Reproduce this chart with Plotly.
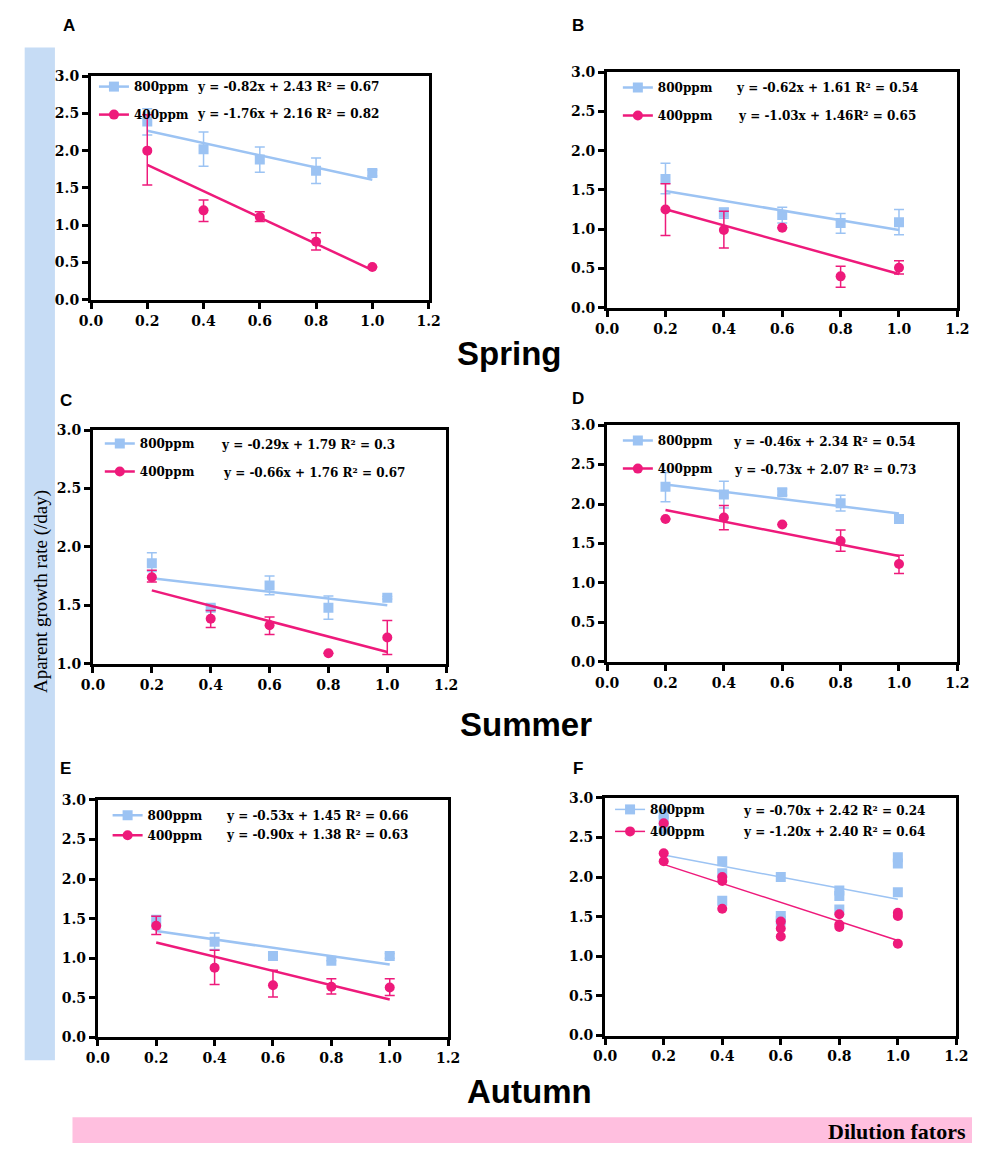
import plotly.graph_objects as go

W, H = 984, 1151
def px(x): return x / W
def py(y): return 1 - y / H

X = [0.2, 0.4, 0.6, 0.8, 1.0]

# Panel A (Spring, left)
a800 = [2.39, 2.02, 1.88, 1.73, 1.70]
a800_hi = [0.17, 0.23, 0.17, 0.17, 0.04]
a800_lo = [0.18, 0.23, 0.17, 0.17, 0.04]
a400 = [2.00, 1.20, 1.11, 0.78, 0.44]
a400_hi = [0.48, 0.14, 0.07, 0.12, 0.0]
a400_lo = [0.46, 0.15, 0.06, 0.11, 0.0]
# Panel B (Spring, right)
b800 = [1.64, 1.21, 1.18, 1.08, 1.09]
b800_hi = [0.20, 0.06, 0.10, 0.12, 0.16]
b800_lo = [0.19, 0.07, 0.10, 0.13, 0.16]
b400 = [1.25, 0.99, 1.02, 0.40, 0.51]
b400_hi = [0.33, 0.24, 0.0, 0.13, 0.09]
b400_lo = [0.33, 0.23, 0.0, 0.14, 0.08]
# Panel C (Summer, left)
c800 = [1.86, 1.48, 1.67, 1.48, 1.565]
c800_hi = [0.09, 0.02, 0.08, 0.10, 0.01]
c800_lo = [0.07, 0.02, 0.08, 0.10, 0.01]
c400 = [1.74, 1.385, 1.33, 1.09, 1.225]
c400_hi = [0.06, 0.07, 0.07, 0.0, 0.145]
c400_lo = [0.04, 0.075, 0.08, 0.0, 0.145]
# Panel D (Summer, right)
d800 = [2.22, 2.12, 2.15, 2.01, 1.81]
d800_hi = [0.18, 0.17, 0.04, 0.10, 0.03]
d800_lo = [0.19, 0.17, 0.04, 0.10, 0.03]
d400 = [1.81, 1.83, 1.74, 1.53, 1.24]
d400_hi = [0.0, 0.15, 0.0, 0.14, 0.11]
d400_lo = [0.0, 0.155, 0.0, 0.13, 0.12]
# Panel E (Autumn, left)
e800 = [1.46, 1.21, 1.03, 0.97, 1.03]
e800_hi = [0.08, 0.11, 0.0, 0.0, 0.03]
e800_lo = [0.09, 0.10, 0.0, 0.0, 0.03]
e400 = [1.41, 0.88, 0.66, 0.64, 0.63]
e400_hi = [0.12, 0.22, 0.19, 0.10, 0.11]
e400_lo = [0.11, 0.21, 0.15, 0.09, 0.10]
# Panel F (Autumn, right) - replicate points
f_x = [0.2, 0.2, 0.2, 0.4, 0.4, 0.4, 0.6, 0.6, 0.6, 0.8, 0.8, 0.8, 1.0, 1.0, 1.0]
f800 = [2.80, 2.72, 2.60, 2.20, 2.05, 1.70, 2.00, 1.51, 1.45, 1.83, 1.76, 1.59, 2.25, 2.17, 1.81]
f400 = [2.68, 2.30, 2.20, 2.00, 1.95, 1.60, 1.44, 1.35, 1.25, 1.53, 1.40, 1.37, 1.55, 1.51, 1.16]

# Fit equations (slope, intercept) and labels
fits = {
    'A': ((-0.82, 2.43), (-1.76, 2.16)),
    'B': ((-0.62, 1.61), (-1.03, 1.46)),
    'C': ((-0.29, 1.79), (-0.66, 1.76)),
    'D': ((-0.46, 2.34), (-0.73, 2.07)),
    'E': ((-0.53, 1.45), (-0.90, 1.38)),
    'F': ((-0.70, 2.42), (-1.20, 2.40)),
}
eq_text = {
    'A': ("y = -0.82x + 2.43 R\u00b2 = 0.67", "y = -1.76x + 2.16 R\u00b2 = 0.82"),
    'B': ("y = -0.62x + 1.61 R\u00b2 = 0.54", "y = -1.03x + 1.46R\u00b2 = 0.65"),
    'C': ("y = -0.29x + 1.79 R\u00b2 = 0.3", "y = -0.66x + 1.76 R\u00b2 = 0.67"),
    'D': ("y = -0.46x + 2.34 R\u00b2 = 0.54", "y = -0.73x + 2.07 R\u00b2 = 0.73"),
    'E': ("y = -0.53x + 1.45 R\u00b2 = 0.66", "y = -0.90x + 1.38 R\u00b2 = 0.63"),
    'F': ("y = -0.70x + 2.42 R\u00b2 = 0.24", "y = -1.20x + 2.40 R\u00b2 = 0.64"),
}
series_names = ["800ppm", "400ppm"]
x_ticks = [0.0, 0.2, 0.4, 0.6, 0.8, 1.0, 1.2]
season_labels = ["Spring", "Summer", "Autumn"]

BLUE = "#9cc3f3"
PINK = "#ee1a7b"
TICKFONT = dict(family="DejaVu Serif", size=14, color="black", weight="bold")
TXTFONT = dict(family="DejaVu Serif", size=12, color="black", weight="bold")

panels = [
    dict(k='A', xd=(81, 427), yd=(69, 296), yr=(0, 3), d800=(a800, a800_hi, a800_lo), d400=(a400, a400_hi, a400_lo),
         leg=(84, 65, 9), eqx=(188, 188), rows=(80, 108), lw=2.5),
    dict(k='B', xd=(610, 969), yd=(65, 304), yr=(0, 3), d800=(b800, b800_hi, b800_lo), d400=(b400, b400_hi, b400_lo),
         leg=(621, 66, 9), eqx=(740, 742), rows=(81, 110), lw=2.5),
    dict(k='C', xd=(83, 445), yd=(428, 665), yr=(1, 3), d800=(c800, c800_hi, c800_lo), d400=(c400, c400_hi, c400_lo),
         leg=(90, 427, 9), eqx=(212, 214), rows=(443, 472), lw=2.5),
    dict(k='D', xd=(610, 969), yd=(423, 663), yr=(0, 3), d800=(d800, d800_hi, d800_lo), d400=(d400, d400_hi, d400_lo),
         leg=(621, 424, 9), eqx=(737, 738), rows=(440, 469), lw=2.5),
    dict(k='E', xd=(88, 447), yd=(803, 1044), yr=(0, 3), d800=(e800, e800_hi, e800_lo), d400=(e400, e400_hi, e400_lo),
         leg=(98, 804, 1), eqx=(217, 217), rows=(819, 839), lw=2.5),
    dict(k='F', xd=(608, 968), yd=(801, 1042), yr=(0, 3), d800=None, d400=None,
         leg=(613, 798, 3), eqx=(747, 747), rows=(814, 836), lw=1.5),
]

fig = go.Figure()
annotations = []
layout_axes = {}

for i, p in enumerate(panels):
    n = i + 1
    xa = 'x' if n == 1 else f'x{n}'
    ya = 'y' if n == 1 else f'y{n}'
    lg = 'legend' if n == 1 else f'legend{n}'
    k = p['k']
    (s8, i8), (s4, i4) = fits[k]
    fitx = [X[0], X[-1]]
    if p['d800'] is not None:
        v, hi, lo = p['d800']
        fig.add_trace(go.Scatter(x=X, y=v, mode='markers', xaxis=xa, yaxis=ya, showlegend=False,
                                 marker=dict(symbol='square', size=10, color=BLUE),
                                 error_y=dict(type='data', array=hi, arrayminus=lo, color=BLUE, thickness=1.5, width=5)))
    else:
        fig.add_trace(go.Scatter(x=f_x, y=f800, mode='markers', xaxis=xa, yaxis=ya, showlegend=False,
                                 marker=dict(symbol='square', size=10, color=BLUE)))
    fig.add_trace(go.Scatter(x=fitx, y=[s8 * x + i8 for x in fitx], mode='lines', xaxis=xa, yaxis=ya,
                             showlegend=False, line=dict(color=BLUE, width=p['lw'])))
    if p['d400'] is not None:
        v, hi, lo = p['d400']
        fig.add_trace(go.Scatter(x=X, y=v, mode='markers', xaxis=xa, yaxis=ya, showlegend=False,
                                 marker=dict(symbol='circle', size=10, color=PINK),
                                 error_y=dict(type='data', array=hi, arrayminus=lo, color=PINK, thickness=1.5, width=5)))
    else:
        fig.add_trace(go.Scatter(x=f_x, y=f400, mode='markers', xaxis=xa, yaxis=ya, showlegend=False,
                                 marker=dict(symbol='circle', size=10, color=PINK)))
    fig.add_trace(go.Scatter(x=fitx, y=[s4 * x + i4 for x in fitx], mode='lines', xaxis=xa, yaxis=ya,
                             showlegend=False, line=dict(color=PINK, width=p['lw'])))
    for nm, col, sym, grp in [(series_names[0], BLUE, 'square', 'g8'), (series_names[1], PINK, 'circle', 'g4')]:
        fig.add_trace(go.Scatter(x=[None], y=[None], mode='lines+markers', name=nm, legend=lg,
                                 legendgroup=f'{k}{grp}', xaxis=xa, yaxis=ya,
                                 marker=dict(symbol=sym, size=10, color=col),
                                 line=dict(color=col, width=p['lw'])))
    lx, ly, gap = p['leg']
    layout_axes[lg] = dict(x=px(lx), y=py(ly), xanchor='left', yanchor='top', bgcolor='rgba(0,0,0,0)',
                           font=TXTFONT, tracegroupgap=gap, itemwidth=30, borderwidth=0)
    for j in range(2):
        annotations.append(dict(x=px(p['eqx'][j]), y=py(p['rows'][j]), xref='paper', yref='paper',
                                text=eq_text[k][j], showarrow=False, xanchor='left', yanchor='middle',
                                font=TXTFONT))
    y0, y1 = p['yr']
    axcommon = dict(showline=True, linewidth=3, linecolor='black', mirror=True, ticks='outside',
                    ticklen=6, tickwidth=3, tickcolor='black', showgrid=False, zeroline=False,
                    tickfont=TICKFONT)
    layout_axes['xaxis' if n == 1 else f'xaxis{n}'] = dict(
        domain=[px(p['xd'][0]), px(p['xd'][1])], range=[0, 1.2], anchor=ya,
        tickvals=x_ticks, ticktext=[f"{t:.1f}" for t in x_ticks], **axcommon)
    yt = [y0 + 0.5 * m for m in range(int((y1 - y0) / 0.5) + 1)]
    layout_axes['yaxis' if n == 1 else f'yaxis{n}'] = dict(
        domain=[py(p['yd'][1]), py(p['yd'][0])], range=[y0, y1], anchor=xa,
        tickvals=yt, ticktext=[f"{t:.1f}" for t in yt], **axcommon)
    letter_pos = {'A': (58, 18), 'B': (580, 18), 'C': (55, 398), 'D': (580, 396), 'E': (55, 771), 'F': (580, 771)}
    lxp, lyp = letter_pos[k]
    annotations.append(dict(x=px(lxp), y=py(lyp), xref='paper', yref='paper', text=k, showarrow=False,
                            xanchor='center', yanchor='middle',
                            font=dict(family="Liberation Sans, Arial", size=17, color='black', weight='bold')))

for lab, (cx, cy) in zip(season_labels, [(510, 350), (527, 727), (530, 1099)]):
    annotations.append(dict(x=px(cx), y=py(cy), xref='paper', yref='paper', text=lab, showarrow=False,
                            xanchor='center', yanchor='middle',
                            font=dict(family="Liberation Sans, Arial", size=33, color='black', weight='bold')))

annotations.append(dict(x=px(29), y=py(592), xref='paper', yref='paper', text="Aparent growth rate (/day)",
                        showarrow=False, textangle=-90, xanchor='center', yanchor='middle',
                        font=dict(family="Liberation Serif, Times New Roman", size=19, color='black')))
annotations.append(dict(x=px(980), y=py(1139), xref='paper', yref='paper', text="Dilution fators",
                        showarrow=False, xanchor='right', yanchor='middle',
                        font=dict(family="Liberation Serif, Times New Roman", size=22, color='black', weight='bold')))

shapes = [
    dict(type='rect', xref='paper', yref='paper', x0=px(13), x1=px(44), y0=py(1067), y1=py(40),
         fillcolor='#c6dcf5', line=dict(width=0), layer='below'),
    dict(type='rect', xref='paper', yref='paper', x0=px(62), x1=px(984), y0=py(1151), y1=py(1125),
         fillcolor='#ffbfdf', line=dict(width=0), layer='below'),
]

fig.update_layout(width=W, height=H, margin=dict(l=0, r=0, t=0, b=0), autosize=False,
                  paper_bgcolor='white', plot_bgcolor='white', annotations=annotations, shapes=shapes,
                  **layout_axes)

fig.write_html("out.html", config={'displayModeBar': False},
               post_script="document.body.style.margin='0';document.body.style.overflow='hidden';")
